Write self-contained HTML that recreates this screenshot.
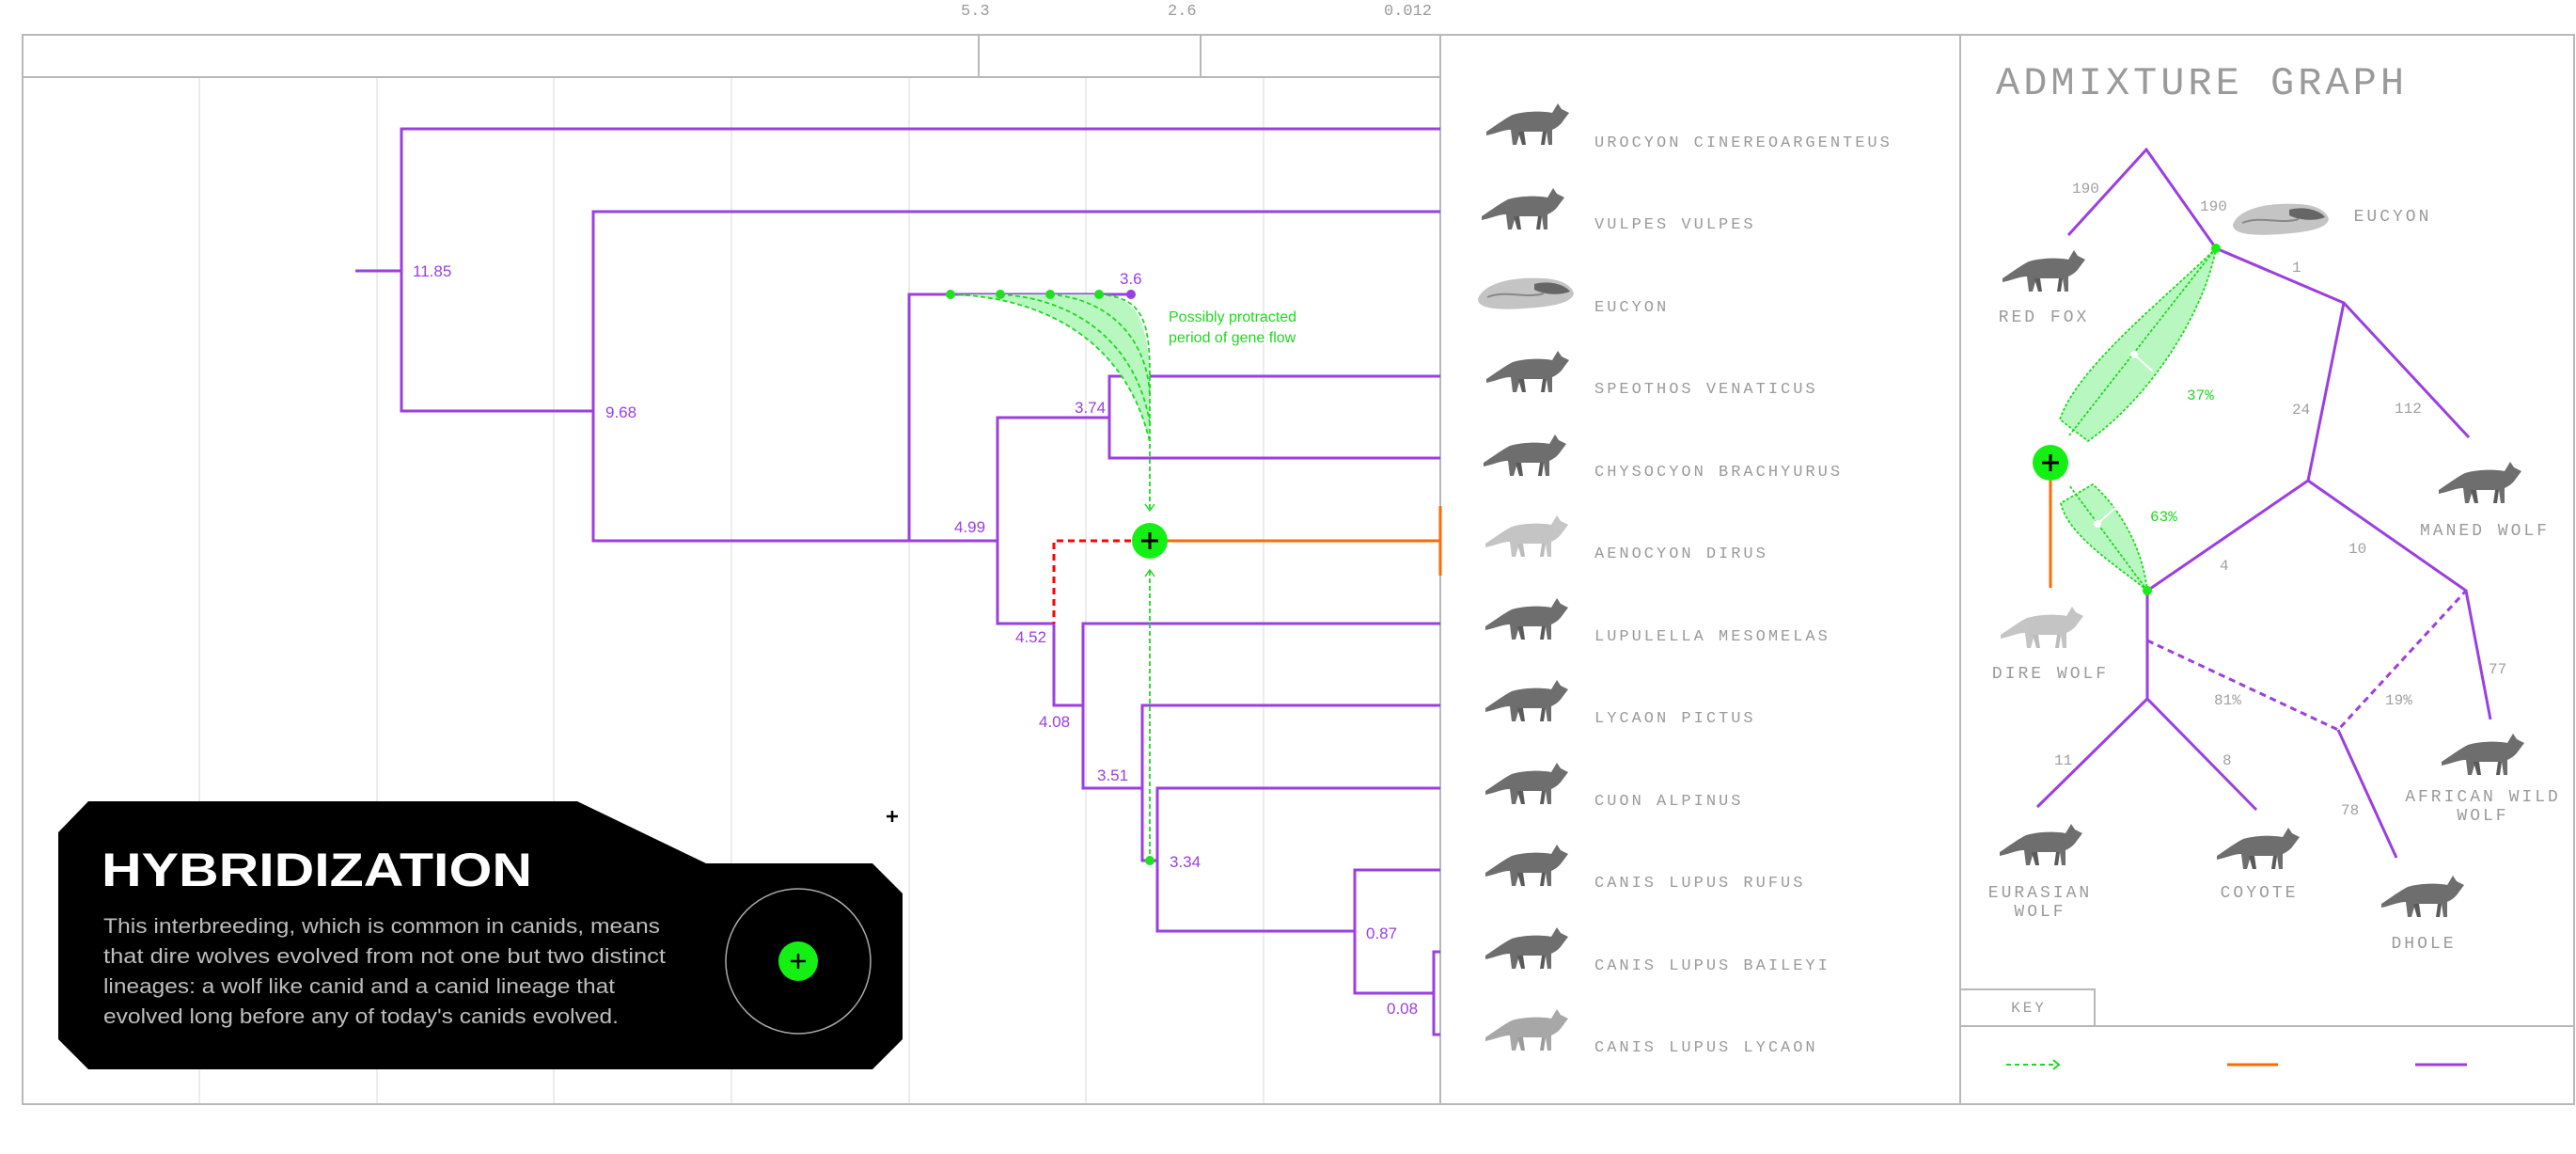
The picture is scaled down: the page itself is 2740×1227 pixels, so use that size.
<!DOCTYPE html>
<html><head><meta charset="utf-8"><style>
html,body{margin:0;padding:0;background:#fff;width:2740px;height:1227px;overflow:hidden}
svg{display:block}
.m{font-family:"Liberation Mono","DejaVu Sans Mono",monospace;fill:#9a9a9a}
.s{font-family:"Liberation Sans",sans-serif}
</style></head><body>
<svg width="2740" height="1227" viewBox="0 0 2740 1227" xmlns="http://www.w3.org/2000/svg">
<defs>
<g id="dog">
<path d="M-42,8 C-30,0 -22,-6 -14,-10 C0,-14 18,-14 28,-12 L34,-22 L38,-16 L46,-12 L40,-4 C36,2 32,4 28,6 L28,22 L24,22 L22,8 L-6,8 L-10,22 L-14,22 L-16,6 C-24,6 -32,10 -42,12 Z" fill="#6e6e6e"/>
<path d="M-8,8 L-4,22 L0,22 L-2,8 Z M18,8 L16,22 L20,22 L22,8 Z" fill="#5a5a5a"/>
</g>
<g id="skull">
<path d="M-50,6 C-44,-12 -10,-18 20,-16 C40,-15 50,-8 52,0 C50,10 30,14 0,16 C-30,18 -50,16 -50,6 Z" fill="#c4c4c4"/>
<path d="M10,-10 C25,-14 42,-10 48,-2 C38,2 22,2 10,-4 Z" fill="#666"/>
<path d="M-40,4 C-20,-4 0,6 20,0" stroke="#888" fill="none" stroke-width="2"/>
</g>
</defs>

<text x="1022" y="16" class="m" font-size="17">5.3</text>
<text x="1242" y="16" class="m" font-size="17">2.6</text>
<text x="1472" y="16" class="m" font-size="17">0.012</text>

<g stroke="#b8b8b8" stroke-width="2" fill="none">
<rect x="24" y="37" width="2714" height="1137"/>
<line x1="24" y1="82" x2="1532" y2="82"/>
<line x1="1041" y1="37" x2="1041" y2="82"/>
<line x1="1277" y1="37" x2="1277" y2="82"/>
<line x1="1532" y1="37" x2="1532" y2="1174"/>
<line x1="2085" y1="37" x2="2085" y2="1174"/>
<rect x="2085" y="1052" width="143" height="39"/>
<line x1="2085" y1="1091" x2="2738" y2="1091"/>
</g>
<g stroke="#e6e6e6" stroke-width="1.5">
<line x1="212" y1="83" x2="212" y2="1173"/><line x1="401" y1="83" x2="401" y2="1173"/>
<line x1="589" y1="83" x2="589" y2="1173"/><line x1="778" y1="83" x2="778" y2="1173"/>
<line x1="967" y1="83" x2="967" y2="1173"/><line x1="1155" y1="83" x2="1155" y2="1173"/>
<line x1="1344" y1="83" x2="1344" y2="1173"/>
</g>

<g stroke="#9b3fe0" stroke-width="3" fill="none">
<line x1="378" y1="288" x2="427" y2="288"/>
<polyline points="1532,137 427,137 427,437 631,437"/>
<polyline points="1532,225 631,225 631,575 1061,575"/>
<polyline points="1203,313 967,313 967,575"/>
<polyline points="1180,444 1061,444 1061,663 1121,663 1121,750 1152,750"/>
<polyline points="1532,400 1180,400 1180,487 1532,487"/>
<polyline points="1532,663 1152,663 1152,838 1215,838"/>
<polyline points="1532,750 1215,750 1215,915 1231,915"/>
<polyline points="1532,838 1231,838 1231,990 1441,990"/>
<polyline points="1532,925 1441,925 1441,1056 1525,1056"/>
<polyline points="1532,1012 1525,1012 1525,1100 1532,1100"/>
</g>
<circle cx="1203" cy="313" r="5" fill="#9b3fe0"/>
<g class="s" font-size="17" fill="#9b3fe0">
<text x="439" y="294">11.85</text><text x="644" y="444">9.68</text>
<text x="1191" y="302">3.6</text><text x="1015" y="566">4.99</text>
<text x="1143" y="439">3.74</text><text x="1080" y="683">4.52</text>
<text x="1105" y="773">4.08</text><text x="1167" y="830">3.51</text>
<text x="1244" y="922">3.34</text><text x="1453" y="998">0.87</text>
<text x="1475" y="1078">0.08</text>
</g>

<path d="M1011,313 C1120,316 1200,370 1223,470 L1223,400 C1220,340 1210,316 1169,313 Z" fill="#b8f8c0" stroke="none"/>
<g stroke="#1fd81f" stroke-width="1.8" fill="none" stroke-dasharray="5,3">
<path d="M1011,313 C1120,316 1200,370 1223,470"/>
<path d="M1064,313 C1150,318 1210,370 1223,450"/>
<path d="M1117,313 C1180,318 1220,360 1223,420"/>
<path d="M1169,313 C1215,316 1223,340 1223,400"/>
<line x1="1223" y1="400" x2="1223" y2="542"/>
<line x1="1223" y1="607" x2="1223" y2="915"/>
</g>
<polyline points="1218,536 1223,543 1228,536" stroke="#1fd81f" stroke-width="1.5" fill="none"/>
<polyline points="1218,613 1223,606 1228,613" stroke="#1fd81f" stroke-width="1.5" fill="none"/>
<g fill="#1fe01f"><circle cx="1011" cy="313" r="5"/><circle cx="1064" cy="313" r="5"/><circle cx="1117" cy="313" r="5"/><circle cx="1169" cy="313" r="5"/><circle cx="1223" cy="915" r="5"/></g>
<text x="1243" y="342" class="s" font-size="16" fill="#1fd81f">Possibly protracted</text>
<text x="1243" y="364" class="s" font-size="16" fill="#1fd81f">period of gene flow</text>
<polyline points="1203,575 1121,575 1121,663" stroke="#f00" stroke-width="3" fill="none" stroke-dasharray="7,5"/>
<line x1="1223" y1="575" x2="1532" y2="575" stroke="#ff6a00" stroke-width="3"/>
<line x1="1532" y1="538" x2="1532" y2="612" stroke="#ff6a00" stroke-width="3"/>
<circle cx="1223" cy="575" r="19" fill="#14f014"/>
<path d="M1214,575 h18 M1223,566 v18" stroke="#000" stroke-width="3"/>

<path d="M94,852 L614,852 L751,918 L928,918 L960,950 L960,1105 L928,1137 L94,1137 L62,1105 L62,885 Z" fill="#000"/>
<text x="108" y="942" class="s" font-size="50" font-weight="bold" fill="#fff" textLength="458" lengthAdjust="spacingAndGlyphs">HYBRIDIZATION</text>
<g class="s" font-size="22" fill="#bdbdbd">
<text x="110" y="992" textLength="592" lengthAdjust="spacingAndGlyphs">This interbreeding, which is common in canids, means</text>
<text x="110" y="1024" textLength="598" lengthAdjust="spacingAndGlyphs">that dire wolves evolved from not one but two distinct</text>
<text x="110" y="1056" textLength="544" lengthAdjust="spacingAndGlyphs">lineages: a wolf like canid and a canid lineage that</text>
<text x="110" y="1088" textLength="548" lengthAdjust="spacingAndGlyphs">evolved long before any of today's canids evolved.</text>
</g>
<circle cx="849" cy="1022" r="77" fill="none" stroke="#aaa" stroke-width="1.5"/>
<circle cx="849" cy="1022" r="21" fill="#14f014"/>
<path d="M841,1022 h16 M849,1014 v16" stroke="#000" stroke-width="2.5"/>
<path d="M943,868 h12 M949,862 v12" stroke="#000" stroke-width="2.5"/>

<g class="m" font-size="17" letter-spacing="3">
<text x="1696" y="156">UROCYON CINEREOARGENTEUS</text>
<text x="1696" y="243">VULPES VULPES</text>
<text x="1696" y="331">EUCYON</text>
<text x="1696" y="418">SPEOTHOS VENATICUS</text>
<text x="1696" y="506">CHYSOCYON BRACHYURUS</text>
<text x="1696" y="593">AENOCYON DIRUS</text>
<text x="1696" y="681">LUPULELLA MESOMELAS</text>
<text x="1696" y="768">LYCAON PICTUS</text>
<text x="1696" y="856">CUON ALPINUS</text>
<text x="1696" y="943">CANIS LUPUS RUFUS</text>
<text x="1696" y="1031">CANIS LUPUS BAILEYI</text>
<text x="1696" y="1118">CANIS LUPUS LYCAON</text>
</g>
<use href="#dog" x="1623" y="132"/>
<use href="#dog" x="1618" y="222"/>
<use href="#skull" x="1622" y="312"/>
<use href="#dog" x="1623" y="395"/>
<use href="#dog" x="1620" y="484"/>
<use href="#dog" x="1622" y="570" opacity="0.4"/>
<use href="#dog" x="1622" y="658"/>
<use href="#dog" x="1622" y="745"/>
<use href="#dog" x="1622" y="833"/>
<use href="#dog" x="1622" y="920"/>
<use href="#dog" x="1622" y="1008"/>
<use href="#dog" x="1622" y="1095" opacity="0.6"/>

<text x="2123" y="100" class="m" font-size="42" letter-spacing="4">ADMIXTURE GRAPH</text>
<g stroke="#9b3fe0" stroke-width="3" fill="none">
<polyline points="2200,250 2283,159 2357,264 2493,322 2626,465"/>
<polyline points="2493,322 2455,511 2284,628 2284,743"/>
<polyline points="2455,511 2623,628 2649,765"/>
<polyline points="2167,858 2284,743 2400,861"/>
<line x1="2487" y1="776" x2="2549" y2="912"/>
<polyline points="2284,681 2487,776 2623,628" stroke-dasharray="7,5"/>
</g>
<line x1="2181" y1="511" x2="2181" y2="625" stroke="#ff6a00" stroke-width="3"/>
<path d="M2357,264 C2300,320 2210,390 2191,446 L2221,469 C2290,420 2345,330 2357,264 Z" fill="#b8f8c0" stroke="#1fd81f" stroke-width="1.8" stroke-dasharray="3,2"/>
<line x1="2357" y1="264" x2="2201" y2="463" stroke="#1fd81f" stroke-width="1.8" stroke-dasharray="3,2"/>
<path d="M2284,628 C2250,600 2200,570 2192,535 L2226,515 C2260,545 2280,590 2284,628 Z" fill="#b8f8c0" stroke="#1fd81f" stroke-width="1.8" stroke-dasharray="3,2"/>
<line x1="2284" y1="628" x2="2201" y2="516" stroke="#1fd81f" stroke-width="1.8" stroke-dasharray="3,2"/>
<line x1="2270" y1="377" x2="2290" y2="395" stroke="#fff" stroke-width="2"/><circle cx="2270" cy="377" r="4" fill="#fff"/>
<line x1="2231" y1="557" x2="2250" y2="540" stroke="#fff" stroke-width="2"/><circle cx="2231" cy="557" r="4" fill="#fff"/>
<circle cx="2357" cy="264" r="5" fill="#14f014"/><circle cx="2284" cy="628" r="5" fill="#14f014"/>
<circle cx="2181" cy="492" r="19" fill="#14f014"/>
<path d="M2172,492 h18 M2181,483 v18" stroke="#000" stroke-width="3"/>
<g class="m" font-size="16" style="fill:#1fd81f"><text x="2326" y="425">37%</text><text x="2287" y="554">63%</text></g>
<g class="m" font-size="16" style="fill:#a0a0a0">
<text x="2204" y="205">190</text><text x="2340" y="224">190</text><text x="2438" y="289">1</text>
<text x="2438" y="440">24</text><text x="2547" y="439">112</text><text x="2361" y="606">4</text>
<text x="2498" y="588">10</text><text x="2647" y="716">77</text><text x="2355" y="749">81%</text>
<text x="2537" y="749">19%</text><text x="2185" y="813">11</text><text x="2364" y="813">8</text>
<text x="2490" y="866">78</text>
</g>
<g class="m" font-size="18" letter-spacing="3" text-anchor="middle">
<text x="2545" y="235">EUCYON</text>
<text x="2174" y="342">RED FOX</text>
<text x="2643" y="569">MANED WOLF</text>
<text x="2181" y="721">DIRE WOLF</text>
<text x="2641" y="852">AFRICAN WILD</text><text x="2641" y="872">WOLF</text>
<text x="2170" y="954">EURASIAN</text><text x="2170" y="974">WOLF</text>
<text x="2403" y="954">COYOTE</text>
<text x="2578" y="1008">DHOLE</text>
<text x="2158" y="1076" font-size="16">KEY</text>
</g>
<use href="#skull" x="2425" y="233"/>
<use href="#dog" x="2172" y="288"/>
<use href="#dog" x="2636" y="513"/>
<use href="#dog" x="2170" y="667" opacity="0.4"/>
<use href="#dog" x="2639" y="802"/>
<use href="#dog" x="2169" y="898"/>
<use href="#dog" x="2400" y="902"/>
<use href="#dog" x="2575" y="953"/>
<line x1="2134" y1="1132" x2="2188" y2="1132" stroke="#1fd81f" stroke-width="2" stroke-dasharray="5,4"/>
<polyline points="2184,1127 2190,1132 2184,1137" stroke="#1fd81f" stroke-width="2" fill="none"/>
<line x1="2369" y1="1132" x2="2423" y2="1132" stroke="#ff6a00" stroke-width="3"/>
<line x1="2569" y1="1132" x2="2624" y2="1132" stroke="#9b3fe0" stroke-width="3"/>
</svg>
</body></html>
